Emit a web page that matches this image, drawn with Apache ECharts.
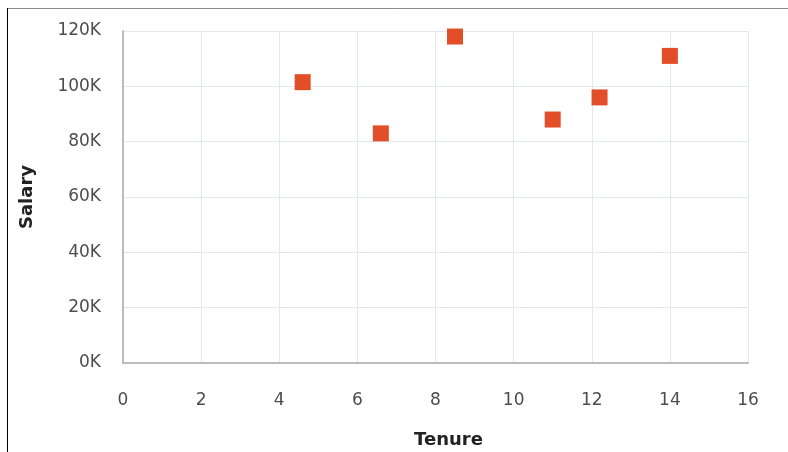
<!DOCTYPE html>
<html>
<head>
<meta charset="utf-8">
<script src="https://cdn.jsdelivr.net/npm/echarts@6/dist/echarts.min.js"></script>
</head>
<body style="margin:0;background:#fff;">
<div id="main" style="width:788px;height:452px;"></div>
<script>
// tenure (years) vs salary
var tenure = [4.6, 6.6, 8.5, 11.0, 12.2, 14.0];
var salary = [101500, 83000, 118000, 88000, 96000, 111000];

var points = [];
for (var i = 0; i < tenure.length; i++) {
    points.push([tenure[i], salary[i]]);
}

var labelFont = 'DejaVu Sans';
var chart = echarts.init(document.getElementById('main'));

chart.setOption({
    animation: false,
    graphic: [
        { type: 'line', shape: { x1: 7, y1: 8.5, x2: 788, y2: 8.5 }, style: { stroke: '#8a8a8a', lineWidth: 1 } },
        { type: 'line', shape: { x1: 7.5, y1: 8, x2: 7.5, y2: 452 }, style: { stroke: '#000', lineWidth: 1 } }
    ],
    grid: { left: 123, right: 40, top: 31, bottom: 89, outerBoundsMode: 'none', containLabel: false },
    xAxis: {
        type: 'value',
        min: 0, max: 16, interval: 2,
        name: 'Tenure',
        nameLocation: 'middle',
        nameGap: 68,
        nameTextStyle: { fontFamily: labelFont, fontWeight: 'bold', fontSize: 18, color: '#222', padding: [0, 0, 0, 26] },
        axisLine: { lineStyle: { color: '#bbbbbb', width: 2 } },
        axisTick: { show: false },
        axisLabel: { fontFamily: labelFont, fontSize: 17, color: '#4d4d4d', margin: 29 },
        splitLine: { lineStyle: { color: '#e4e8ee', width: 1 } }
    },
    yAxis: {
        type: 'value',
        min: 0, max: 120000, interval: 20000,
        name: 'Salary',
        nameLocation: 'middle',
        nameGap: 87,
        nameTextStyle: { fontFamily: labelFont, fontWeight: 'bold', fontSize: 18, color: '#222' },
        axisLine: { show: true, lineStyle: { color: '#bbbbbb', width: 2 } },
        axisTick: { show: false },
        axisLabel: {
            fontFamily: labelFont, fontSize: 17, color: '#4d4d4d', margin: 22,
            formatter: function (v) { return (v / 1000) + 'K'; }
        },
        splitLine: { lineStyle: { color: '#e4e8ee', width: 1 } }
    },
    series: [{
        type: 'scatter',
        symbol: 'rect',
        symbolSize: 16,
        itemStyle: { color: '#e24e27', opacity: 1 },
        data: points
    }]
});
</script>
</body>
</html>
